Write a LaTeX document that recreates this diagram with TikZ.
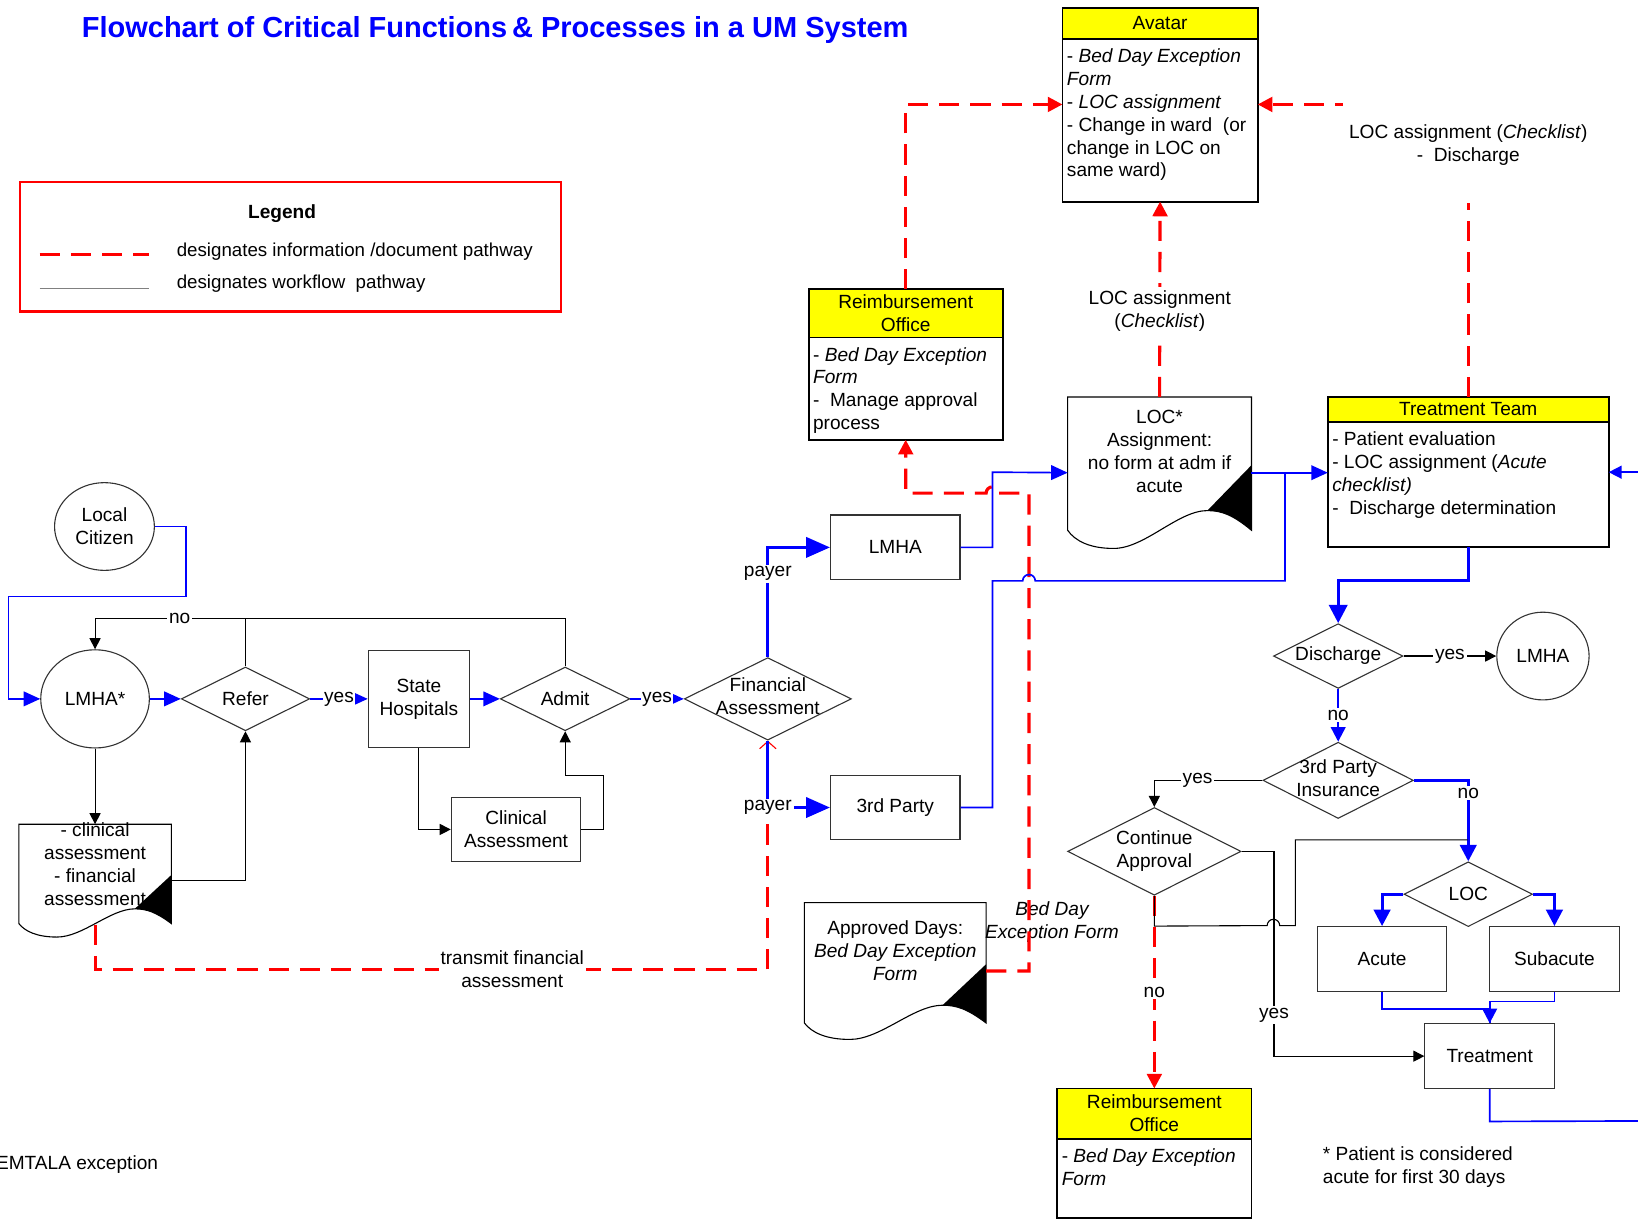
\documentclass[tikz,border=0pt]{standalone}
\usepackage{fontspec}
\setmainfont{Liberation Sans}
\usepackage{tikz}
\usetikzlibrary{positioning,arrows.meta,shapes.geometric,calc}
\definecolor{umBlue}{HTML}{0000FF}
\definecolor{umRed}{HTML}{FF0000}
\definecolor{umYellow}{HTML}{FFFF00}
\definecolor{umGray}{HTML}{808080}
\newcommand{\dtext}[1]{\makebox[0pt]{\begin{tabular}{@{}c@{}}#1\end{tabular}}}
\newcommand{\doctext}[2]{\raisebox{#1}[0pt][0pt]{\begin{tabular}{@{}c@{}}#2\end{tabular}}}
% document symbol: node name, width, height (picture units)
\newcommand{\docpage}[3]{%
  \begin{scope}[shift={(#1.north west)}]
    \draw[docline] (0,0.88*#3) -- (0,0) -- (#2,0) -- (#2,0.88*#3)
      .. controls (0.9*#2,0.78*#3) and (0.84*#2,0.75*#3) .. (0.76*#2,0.75*#3)
      .. controls (0.6*#2,0.75*#3) and (0.42*#2,#3) .. (0.25*#2,#3)
      .. controls (0.12*#2,#3) and (0.04*#2,0.95*#3) .. (0,0.88*#3);
    \fill (#2,0.45*#3) -- (0.76*#2,0.75*#3)
      .. controls (0.84*#2,0.75*#3) and (0.9*#2,0.78*#3) .. (#2,0.88*#3) -- cycle;
    \coordinate (#1-wave) at (0.5*#2,0.89*#3);
  \end{scope}}
\tikzset{
  procbox/.style={draw=black!80, line width=0.6pt, rectangle, minimum width=2.48cm,
                  minimum height=1.24cm, align=center},
  ovalnode/.style={draw=black!80, line width=0.6pt, ellipse, align=center},
  decnode/.style={draw=black!80, line width=0.6pt, diamond, aspect=2, inner sep=0pt},
  docnode/.style={rectangle, inner sep=0pt, outer sep=0pt},
  docline/.style={black, line width=0.6pt},
  hdrbox/.style={draw, line width=1pt, fill=umYellow, outer sep=0pt, align=center,
                 inner sep=1pt},
  bodybox/.style={draw, line width=1pt, outer sep=0pt},
  bodytext/.style={align=left, anchor=north west, inner sep=0pt},
  pathlbl/.style={fill=white, text=black, inner sep=1pt, align=center},
  infoline/.style={umRed, line width=1.7pt, dash pattern=on 11pt off 6pt},
  infoarrow/.style={infoline, -{Triangle[length=8pt,width=8pt]}},
  wfline/.style={umBlue, line width=0.9pt},
  wfarrow/.style={wfline, -{Triangle[length=9pt,width=8pt]}},
  wfthick/.style={umBlue, line width=1.7pt, -{Triangle[length=10pt,width=10pt]}},
  plainline/.style={black, line width=0.6pt},
  plainarrow/.style={plainline, -{Triangle[length=6pt,width=6pt]}},
}
\begin{document}
\begin{tikzpicture}[x=0.02cm, y=-0.02cm, font=\fontsize{10.4}{12.5}\selectfont]
\useasboundingbox (0,0) rectangle (1568,1167);
%% Title and legend
\node[font=\fontsize{15.8}{18}\selectfont\bfseries, text=umBlue] (title) at (474,29)
  {Flowchart of Critical Functions\,\& Processes in a UM System};
\node[draw=umRed, line width=1.4pt, minimum width=10.36cm, minimum height=2.48cm,
      anchor=north west] (legend) at (18,173) {};
\node[font=\fontsize{10.4}{12.5}\selectfont\bfseries] (legtitle) at (270,204) {Legend};
\coordinate (lg1a) at (38,244);
\coordinate (lg1b) at (143,244);
\coordinate (lg2a) at (38,276);
\coordinate (lg2b) at (143,276);
\draw[infoline] (lg1a) -- (lg1b);
\draw[umGray, line width=0.8pt] (lg2a) -- (lg2b);
\node[anchor=west, font=\fontsize{10.2}{12.5}\selectfont] (leg1) at (163,241) {designates information /document pathway};
\node[anchor=west, font=\fontsize{10.2}{12.5}\selectfont] (leg2) at (163,272) {designates workflow~~pathway};

%% Admission side
\node[ovalnode, minimum width=1.88cm, minimum height=1.68cm] (lcit) at (100,504) {Local\\Citizen};
\node[ovalnode, minimum width=2.08cm, minimum height=1.88cm] (lmhastar) at (91,669) {LMHA*};
\node[decnode, minimum width=2.46cm, minimum height=1.22cm] (refer) at (235,669) {Refer};
\node[procbox, minimum width=1.94cm, minimum height=1.86cm] (statehosp) at (401,669) {State\\Hospitals};
\node[decnode, minimum width=2.48cm, minimum height=1.22cm] (admit) at (541,669) {Admit};
\node[decnode, minimum width=3.2cm, minimum height=1.58cm] (finass) at (735,669) {\dtext{Financial\\Assessment}};
\node[procbox] (clinass) at (494,794) {Clinical\\Assessment};
\node[docnode, minimum width=2.92cm, minimum height=2.16cm, anchor=north] (cadoc) at (91,789)
  {\doctext{0.19cm}{- clinical\\assessment\\- financial\\assessment}};
\docpage{cadoc}{146}{108}
\node[procbox] (lmharect) at (857,524) {LMHA};
\node[procbox] (thirdp) at (857,773) {3rd Party};
\node[docnode, minimum width=3.48cm, minimum height=2.62cm, anchor=north] (appdoc) at (857,864)
  {\doctext{0.26cm}{Approved Days:\\\textit{Bed Day Exception}\\\textit{Form}}};
\docpage{appdoc}{174}{131}
\node[docnode, minimum width=3.52cm, minimum height=2.9cm, anchor=north] (locdoc) at (1110,380)
  {\doctext{0.28cm}{LOC*\\Assignment:\\no form at adm if\\acute}};
\docpage{locdoc}{176}{145}

%% Offices and teams
\node[hdrbox, minimum width=3.74cm, minimum height=0.58cm, anchor=north] (avhdr) at (1110.5,8) {Avatar};
\node[bodybox, minimum width=3.74cm, minimum height=3.12cm, below=0pt of avhdr] (avbody) {};
\node[bodytext] (avtext) at ($(avbody.north west)+(4,9)$)
  {- \textit{Bed Day Exception}\\\textit{Form}\\- \textit{LOC assignment}\\- Change in ward~~(or\\change in LOC on\\same ward)};
\node[hdrbox, minimum width=3.72cm, minimum height=0.92cm, anchor=north] (reimhdr) at (867,277) {Reimbursement\\Office};
\node[bodybox, minimum width=3.72cm, minimum height=1.96cm, below=0pt of reimhdr] (reimbody) {};
\node[bodytext] (reimtext) at ($(reimbody.north west)+(4,9)$)
  {- \textit{Bed Day Exception}\\\textit{Form}\\-~ Manage approval\\process};
\node[hdrbox, minimum width=5.38cm, minimum height=0.48cm, anchor=north] (tthdr) at (1405.5,380) {Treatment Team};
\node[bodybox, minimum width=5.38cm, minimum height=2.4cm, below=0pt of tthdr] (ttbody) {};
\node[bodytext] (tttext) at ($(ttbody.north west)+(4,9)$)
  {- Patient evaluation\\- LOC assignment (\textit{Acute}\\\textit{checklist)}\\-~ Discharge determination};
\node[hdrbox, minimum width=3.72cm, minimum height=0.96cm, anchor=north] (reimhdr2) at (1105,1042) {Reimbursement\\Office};
\node[bodybox, minimum width=3.72cm, minimum height=1.52cm, below=0pt of reimhdr2] (reimbody2) {};
\node[bodytext] (reimtext2) at ($(reimbody2.north west)+(4,9)$)
  {- \textit{Bed Day Exception}\\\textit{Form}};

%% Discharge side
\node[decnode, minimum width=2.48cm, minimum height=1.24cm] (dischg) at (1281,628) {Discharge};
\node[ovalnode, minimum width=1.64cm, minimum height=1.68cm] (lmharight) at (1477,628) {LMHA};
\node[decnode, minimum width=2.88cm, minimum height=1.46cm] (insdec) at (1281,747) {\dtext{3rd Party\\Insurance}};
\node[decnode, minimum width=3.32cm, minimum height=1.68cm] (contappr) at (1105,815) {\dtext{Continue\\Approval}};
\node[decnode, minimum width=2.46cm, minimum height=1.24cm] (locdec) at (1405.5,856) {LOC};
\node[procbox] (acute) at (1323,918) {Acute};
\node[procbox] (subacute) at (1488,918) {Subacute};
\node[procbox] (treat) at (1426,1011) {Treatment};

%% Notes
\node[anchor=west] (emtala) at (-10,1115) {EMTALA exception};
\node[anchor=north west, align=left, inner sep=0pt] (footnote) at (1266,1097)
  {* Patient is considered\\acute for first 30 days};
\node[font=\fontsize{10.4}{12.5}\selectfont\itshape, align=center] (bdelbl) at (1007,883)
  {Bed Day\\Exception Form};

%% Junctions and off-page ends
\coordinate (jtt) at (1230,452);
\coordinate (jloc) at (1405,804);
\coordinate (offbot) at (1580,1073);
\coordinate (offtop) at (1580,452);

%% Information / document pathways
\draw[infoline, -{Straight Barb[length=4pt,width=9pt,line width=0.6pt]}]
  (cadoc-wave) |- node[pathlbl, pos=0.81]{transmit financial\\assessment} (finass.south |- 0,928)
  -- (finass.south);
\draw[infoarrow] (appdoc.east) -| (985,472) -- (956,472)
  arc[start angle=0, end angle=-180, radius=6] -| (reimbody.south);
\draw[infoarrow] (reimhdr.north) |- ([yshift=0.3cm]avbody.west);
\draw[infoarrow] (locdoc.north) -- node[pathlbl, pos=0.44, inner sep=2pt]{LOC assignment\\(\textit{Checklist})} (avbody.south);
\draw[infoarrow] (tthdr.north) |- node[pathlbl, pos=0.43, minimum width=4.8cm, minimum height=2.2cm]
  {LOC assignment (\textit{Checklist})\\-~ Discharge} ([yshift=0.3cm]avbody.east);
\draw[infoarrow] (contappr.south) -- node[pathlbl]{no} (reimhdr2.north);

%% Workflow
\draw[wfarrow] (lcit.east) -| (178,571) -| (8,669) -- (lmhastar.west);
\draw[wfarrow] (lmhastar) -- (refer);
\draw[wfarrow] (refer) -- node[pathlbl, inner sep=0.5pt]{yes} (statehosp);
\draw[wfarrow] (statehosp) -- (admit);
\draw[wfarrow] (admit) -- node[pathlbl, inner sep=0.5pt]{yes} (finass);
\draw[wfthick, -{Triangle[length=13pt,width=11pt]}] (finass.north) |- node[pathlbl, pos=0.38]{payer} (lmharect.west);
\draw[wfthick, -{Triangle[length=13pt,width=11pt]}] (finass.south) |- node[pathlbl, pos=0.5]{payer} (thirdp.west);
\draw[wfarrow] (lmharect.east) -| (950,452) -- (locdoc.west);
\draw[wfline] (thirdp.east) -| (950,556) -- (979,556)
  arc[start angle=180, end angle=360, radius=6] -| (jtt);
\draw[wfarrow] (locdoc.east) -- (locdoc.east -| ttbody.west);
\draw[wfline, -{Triangle[length=7pt,width=7pt]}] (offtop) -- (offtop -| ttbody.east);
\draw[wfthick] (ttbody.south) -- ++(0,32) -| (dischg.north);
\draw[plainarrow] (dischg) -- node[pathlbl]{yes} (lmharight);
\draw[wfline, line width=1.2pt, -{Triangle[length=8pt,width=8pt]}] (dischg) -- node[pathlbl]{no} (insdec);
\draw[plainarrow] (insdec.west) -| node[pathlbl, pos=0.3]{yes} (contappr.north);
\draw[wfthick, -{Triangle[length=9pt,width=9pt]}] (insdec.east) -| node[pathlbl, pos=0.58]{no} (locdec.north);
\draw[plainarrow] (contappr.east) -- ++(31,0) |- node[pathlbl, pos=0.4]{yes} (treat.west);
\draw[plainline] (contappr.south) -- ++(0,29) -- (1213,886)
  arc[start angle=180, end angle=360, radius=6] -- (1240,886) |- (jloc);
\draw[wfthick, -{Triangle[length=9pt,width=9pt]}] (locdec.west) -| (acute.north);
\draw[wfthick, -{Triangle[length=9pt,width=9pt]}] (locdec.east) -| (subacute.north);
\draw[wfline] (subacute.south) -- ++(0,9) -| (treat.north);
\draw[wfline, line width=1.2pt, -{Triangle[length=8pt,width=8pt]}] (acute.south) -- ++(0,16) -| (treat.north);
\draw[wfline] (treat.south) -- ++(0,31) -- (offbot);
\draw[plainarrow] (lmhastar.south) -- (cadoc.north);
\draw[plainarrow] (cadoc.east) -| (refer.south);
\draw[plainarrow] (statehosp.south) |- (clinass.west);
\draw[plainarrow] (clinass.east) -- ++(21,0) -- ++(0,-52) -| (admit.south);
\draw[plainarrow] (admit.north) -- ++(0,-46) -| node[pathlbl, pos=0.41]{no} (lmhastar.north);
\draw[plainline] (refer.north) -- ++(0,-46);
\end{tikzpicture}
\end{document}
